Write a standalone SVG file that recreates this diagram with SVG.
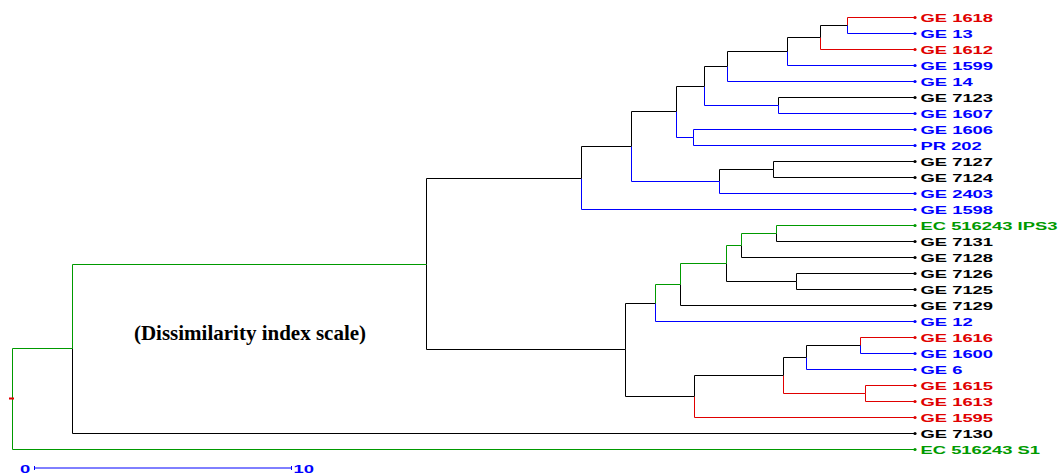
<svg xmlns="http://www.w3.org/2000/svg" width="1060" height="476" viewBox="0 0 1060 476">
<style>
.e{fill:none;stroke-width:1}
.er{stroke:#e00000}.eb{stroke:#0000ff}.eg{stroke:#009a00}.ek{stroke:#000000}
.lb{font-family:"Liberation Sans",Arial,sans-serif;font-weight:bold;font-size:11.5px}
.tr{fill:#e00000}.tb{fill:#0000ff}.tg{fill:#009a00}.tk{fill:#000000}
.title{font-family:"Liberation Serif","Times New Roman",serif;font-weight:bold;font-size:21px;fill:#000}
</style>
<rect width="1060" height="476" fill="#ffffff"/>
<g id="connectors">
<path class="e er" d="M915 17.5H847.5V25.5"/>
<path class="e eb" d="M915 33.5H847.5V25.5"/>
<path class="e ek" d="M847.5 25.5H820.5V37.5"/>
<path class="e er" d="M915 49.5H820.5V37.5"/>
<path class="e ek" d="M820.5 37.5H787.5V51.5"/>
<path class="e eb" d="M915 65.5H787.5V51.5"/>
<path class="e ek" d="M787.5 51.5H727.5V66.5"/>
<path class="e eb" d="M915 81.5H727.5V66.5"/>
<path class="e ek" d="M727.5 66.5H704.5V86.5"/>
<path class="e ek" d="M915 97.5H778.5V105.5"/>
<path class="e eb" d="M915 113.5H778.5V105.5"/>
<path class="e eb" d="M778.5 105.5H704.5V86.5"/>
<path class="e ek" d="M704.5 86.5H676.5V111.5"/>
<path class="e eb" d="M915 129.5H693.5V137.5"/>
<path class="e eb" d="M915 145.5H693.5V137.5"/>
<path class="e eb" d="M693.5 137.5H676.5V111.5"/>
<path class="e ek" d="M676.5 111.5H631.5V146.5"/>
<path class="e ek" d="M915 161.5H773.5V169.5"/>
<path class="e ek" d="M915 177.5H773.5V169.5"/>
<path class="e ek" d="M773.5 169.5H719.5V181.5"/>
<path class="e eb" d="M915 193.5H719.5V181.5"/>
<path class="e eb" d="M719.5 181.5H631.5V146.5"/>
<path class="e ek" d="M631.5 146.5H581.5V178.5"/>
<path class="e eb" d="M915 209.5H581.5V178.5"/>
<path class="e ek" d="M581.5 178.5H426.5V264.5"/>
<path class="e eg" d="M915 225.5H776.5V233.5"/>
<path class="e ek" d="M915 241.5H776.5V233.5"/>
<path class="e eg" d="M776.5 233.5H741.5V245.5"/>
<path class="e ek" d="M915 257.5H741.5V245.5"/>
<path class="e eg" d="M741.5 245.5H726.5V263.5"/>
<path class="e ek" d="M915 273.5H796.5V281.5"/>
<path class="e ek" d="M915 289.5H796.5V281.5"/>
<path class="e ek" d="M796.5 281.5H726.5V263.5"/>
<path class="e eg" d="M726.5 263.5H680.5V284.5"/>
<path class="e ek" d="M915 305.5H680.5V284.5"/>
<path class="e eg" d="M680.5 284.5H655.5V303.5"/>
<path class="e eb" d="M915 321.5H655.5V303.5"/>
<path class="e ek" d="M655.5 303.5H625.5V349.5"/>
<path class="e er" d="M915 337.5H860.5V345.5"/>
<path class="e eb" d="M915 353.5H860.5V345.5"/>
<path class="e ek" d="M860.5 345.5H806.5V357.5"/>
<path class="e eb" d="M915 369.5H806.5V357.5"/>
<path class="e ek" d="M806.5 357.5H783.5V375.5"/>
<path class="e er" d="M915 385.5H865.5V393.5"/>
<path class="e er" d="M915 401.5H865.5V393.5"/>
<path class="e er" d="M865.5 393.5H783.5V375.5"/>
<path class="e ek" d="M783.5 375.5H694.5V396.5"/>
<path class="e er" d="M915 417.5H694.5V396.5"/>
<path class="e ek" d="M694.5 396.5H625.5V349.5"/>
<path class="e ek" d="M625.5 349.5H426.5V264.5"/>
<path class="e eg" d="M426.5 264.5H72.5V348.5"/>
<path class="e ek" d="M915 433.5H72.5V348.5"/>
<path class="e eg" d="M72.5 348.5H12.5V399"/>
<path class="e eg" d="M915 449.5H12.5V399"/>
</g>
<g id="root"><rect x="9" y="397.5" width="5" height="2" fill="#e00000"/></g>
<g id="leaf-ge1618"><circle cx="915" cy="17.5" r="1.6" class="tr"/><text class="lb tr" transform="translate(920.5 22.3) scale(1.6 1)">GE 1618</text></g>
<g id="leaf-ge13"><circle cx="915" cy="33.5" r="1.6" class="tb"/><text class="lb tb" transform="translate(920.5 38.3) scale(1.6 1)">GE 13</text></g>
<g id="leaf-ge1612"><circle cx="915" cy="49.5" r="1.6" class="tr"/><text class="lb tr" transform="translate(920.5 54.3) scale(1.6 1)">GE 1612</text></g>
<g id="leaf-ge1599"><circle cx="915" cy="65.5" r="1.6" class="tb"/><text class="lb tb" transform="translate(920.5 70.3) scale(1.6 1)">GE 1599</text></g>
<g id="leaf-ge14"><circle cx="915" cy="81.5" r="1.6" class="tb"/><text class="lb tb" transform="translate(920.5 86.3) scale(1.6 1)">GE 14</text></g>
<g id="leaf-ge7123"><circle cx="915" cy="97.5" r="1.6" class="tk"/><text class="lb tk" transform="translate(920.5 102.3) scale(1.6 1)">GE 7123</text></g>
<g id="leaf-ge1607"><circle cx="915" cy="113.5" r="1.6" class="tb"/><text class="lb tb" transform="translate(920.5 118.3) scale(1.6 1)">GE 1607</text></g>
<g id="leaf-ge1606"><circle cx="915" cy="129.5" r="1.6" class="tb"/><text class="lb tb" transform="translate(920.5 134.3) scale(1.6 1)">GE 1606</text></g>
<g id="leaf-pr202"><circle cx="915" cy="145.5" r="1.6" class="tb"/><text class="lb tb" transform="translate(920.5 150.3) scale(1.6 1)">PR 202</text></g>
<g id="leaf-ge7127"><circle cx="915" cy="161.5" r="1.6" class="tk"/><text class="lb tk" transform="translate(920.5 166.3) scale(1.6 1)">GE 7127</text></g>
<g id="leaf-ge7124"><circle cx="915" cy="177.5" r="1.6" class="tk"/><text class="lb tk" transform="translate(920.5 182.3) scale(1.6 1)">GE 7124</text></g>
<g id="leaf-ge2403"><circle cx="915" cy="193.5" r="1.6" class="tb"/><text class="lb tb" transform="translate(920.5 198.3) scale(1.6 1)">GE 2403</text></g>
<g id="leaf-ge1598"><circle cx="915" cy="209.5" r="1.6" class="tb"/><text class="lb tb" transform="translate(920.5 214.3) scale(1.6 1)">GE 1598</text></g>
<g id="leaf-ec516243ips3"><circle cx="915" cy="225.5" r="1.6" class="tg"/><text class="lb tg" transform="translate(920.5 230.3) scale(1.6 1)">EC 516243 IPS3</text></g>
<g id="leaf-ge7131"><circle cx="915" cy="241.5" r="1.6" class="tk"/><text class="lb tk" transform="translate(920.5 246.3) scale(1.6 1)">GE 7131</text></g>
<g id="leaf-ge7128"><circle cx="915" cy="257.5" r="1.6" class="tk"/><text class="lb tk" transform="translate(920.5 262.3) scale(1.6 1)">GE 7128</text></g>
<g id="leaf-ge7126"><circle cx="915" cy="273.5" r="1.6" class="tk"/><text class="lb tk" transform="translate(920.5 278.3) scale(1.6 1)">GE 7126</text></g>
<g id="leaf-ge7125"><circle cx="915" cy="289.5" r="1.6" class="tk"/><text class="lb tk" transform="translate(920.5 294.3) scale(1.6 1)">GE 7125</text></g>
<g id="leaf-ge7129"><circle cx="915" cy="305.5" r="1.6" class="tk"/><text class="lb tk" transform="translate(920.5 310.3) scale(1.6 1)">GE 7129</text></g>
<g id="leaf-ge12"><circle cx="915" cy="321.5" r="1.6" class="tb"/><text class="lb tb" transform="translate(920.5 326.3) scale(1.6 1)">GE 12</text></g>
<g id="leaf-ge1616"><circle cx="915" cy="337.5" r="1.6" class="tr"/><text class="lb tr" transform="translate(920.5 342.3) scale(1.6 1)">GE 1616</text></g>
<g id="leaf-ge1600"><circle cx="915" cy="353.5" r="1.6" class="tb"/><text class="lb tb" transform="translate(920.5 358.3) scale(1.6 1)">GE 1600</text></g>
<g id="leaf-ge6"><circle cx="915" cy="369.5" r="1.6" class="tb"/><text class="lb tb" transform="translate(920.5 374.3) scale(1.6 1)">GE 6</text></g>
<g id="leaf-ge1615"><circle cx="915" cy="385.5" r="1.6" class="tr"/><text class="lb tr" transform="translate(920.5 390.3) scale(1.6 1)">GE 1615</text></g>
<g id="leaf-ge1613"><circle cx="915" cy="401.5" r="1.6" class="tr"/><text class="lb tr" transform="translate(920.5 406.3) scale(1.6 1)">GE 1613</text></g>
<g id="leaf-ge1595"><circle cx="915" cy="417.5" r="1.6" class="tr"/><text class="lb tr" transform="translate(920.5 422.3) scale(1.6 1)">GE 1595</text></g>
<g id="leaf-ge7130"><circle cx="915" cy="433.5" r="1.6" class="tk"/><text class="lb tk" transform="translate(920.5 438.3) scale(1.6 1)">GE 7130</text></g>
<g id="leaf-ec516243s1"><circle cx="915" cy="449.5" r="1.6" class="tg"/><text class="lb tg" transform="translate(920.5 454.3) scale(1.6 1)">EC 516243 S1</text></g>
<g id="scale-bar">
<path class="e eb" d="M34.5 468H291.5M34.5 466V470M291.5 466V470"/>
<text class="lb tb" transform="translate(20 472.5) scale(1.6 1)">0</text>
<text class="lb tb" transform="translate(293.5 472.5) scale(1.6 1)">10</text>
</g>
<text class="title" x="250" y="340" text-anchor="middle">(Dissimilarity index scale)</text>
</svg>
